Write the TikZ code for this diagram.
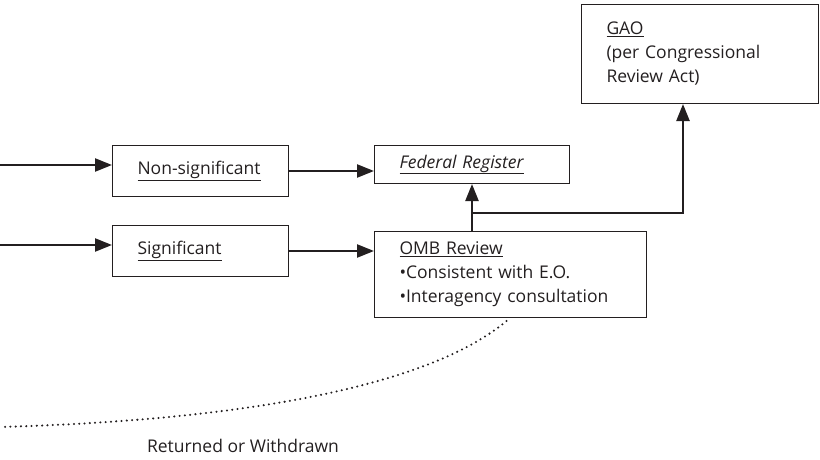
\documentclass[tikz,border=0pt]{standalone}
\usepackage{fontspec}
\setmainfont{Open Sans}
\usetikzlibrary{arrows.meta}
\definecolor{ink}{RGB}{35,31,32}

\begin{document}
\begin{tikzpicture}[x=1pt,y=-1pt,
        box/.style={draw=ink,line width=1pt,anchor=north west,inner xsep=25pt,inner ysep=0pt,
          align=left,text=ink,font=\fontsize{17.5}{24}\selectfont},
        arr/.style={draw=ink,line width=2.4pt,-{Triangle[length=17pt,width=13pt]}},
        back line/.style={draw=ink,line width=2.3pt,line cap=round,dash pattern=on 0pt off 5.3pt}]
        \useasboundingbox (0,0) rectangle (820,460);
        % boxes
        \node[box,text width=126pt,minimum height=51pt] (nonsig) at (112,145) {\underline{Non-significant}};
        \node[box,text width=126pt,minimum height=51pt] (sig) at (112,225) {\underline{Significant}};
        \node[box,text width=145pt,minimum height=38pt] (fedreg) at (374,145) {\underline{\textit{Federal Register}}};
        \node[box,text width=222pt,minimum height=86pt] (omb) at (374,231)
          {\underline{OMB Review}\\\textbullet Consistent with E.O.\\\textbullet Interagency consultation};
        \node[box,text width=187pt,minimum height=99pt] (gao) at (581,4)
          {\underline{GAO}\\(per Congressional\\Review Act)};
        \node[text=ink,font=\fontsize{17.5}{24}\selectfont] (retlabel) at (243,446) {Returned or Withdrawn};
        % loose ends
        \coordinate (in1) at (0,165);
        \coordinate (in2) at (0,245);
        \coordinate (split) at (472,213);
        \coordinate (turn) at (683,213);
        \coordinate (back) at (0,427);
        % connectors
        \draw[arr] (in1) -- (in1 -| nonsig.west);
        \draw[arr] (in2) -- (in2 -| sig.west);
        \draw[arr] (nonsig.east) -- (nonsig.east -| fedreg.west);
        \draw[arr] (sig.east) -- (sig.east -| omb.west);
        \draw[arr] (omb.north -| split) -- (split |- fedreg.south);
        \draw[arr] (split) -- (turn) -- (turn |- gao.south);
        \draw[back line] ([xshift=-4pt,yshift=-3pt]omb.south) .. controls (430,385) and (250,420) .. (back);
\end{tikzpicture}
\end{document}
